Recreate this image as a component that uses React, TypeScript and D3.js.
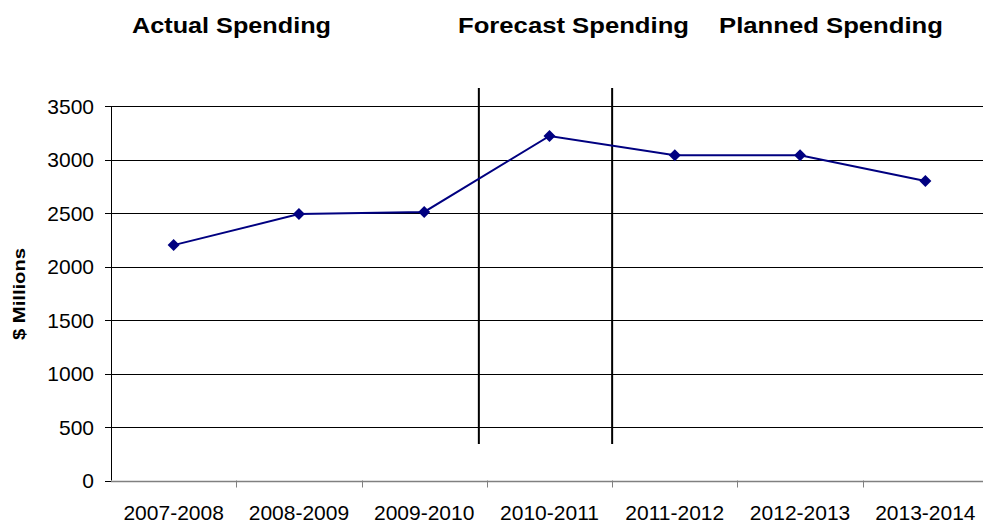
import React from "react";
import * as d3 from "d3";

const categories = ["2007-2008", "2008-2009", "2009-2010", "2010-2011", "2011-2012", "2012-2013", "2013-2014"];
const spending = [2200, 2490, 2510, 3220, 3040, 3040, 2800];
const yTicks = [0, 500, 1000, 1500, 2000, 2500, 3000, 3500];
const sectionTitles = ["Actual Spending", "Forecast Spending", "Planned Spending"];
const sectionCenters = [231.5, 573.5, 831];
const sectionWidths = [199, 231, 224];

export default function App() {
  const W = 983, H = 527;
  const left = 111, right = 988, top = 106, bottom = 480.5;
  const x = d3.scaleBand<string>().domain(categories).range([left, right]).padding(0);
  const y = d3.scaleLinear().domain([0, 3500]).range([bottom, top]);
  const line = d3.line<number>()
    .x((_, i) => (x(categories[i]) as number) + x.bandwidth() / 2)
    .y((d) => y(d));
  const font = "'Liberation Sans', Arial, sans-serif";
  const bw = x.bandwidth();
  const divider1 = (x(categories[3]) as number) - 8;
  const divider2 = (x(categories[4]) as number);

  return (
    <svg width={W} height={H} style={{ position: "absolute", left: 0, top: 0 }} fontFamily={font}>
      <rect x={0} y={0} width={W} height={H} fill="#fff" />
      {sectionTitles.map((t, i) => (
        <text key={t} x={sectionCenters[i]} y={33} textAnchor="middle" fontWeight="bold" fontSize={22}
          textLength={sectionWidths[i]} lengthAdjust="spacingAndGlyphs">{t}</text>
      ))}
      {yTicks.filter((t) => t > 0).map((t) => (
        <line key={t} x1={left} x2={right} y1={Math.round(y(t)) + 0.5} y2={Math.round(y(t)) + 0.5} stroke="#000" strokeWidth={1} />
      ))}
      {yTicks.map((t) => (
        <g key={"yt" + t}>
          <line x1={left - 6} x2={left} y1={Math.round(y(t)) + 0.5} y2={Math.round(y(t)) + 0.5} stroke="#000" />
          <text x={94} y={y(t)} dy="0.36em" textAnchor="end" fontSize={21}>{t}</text>
        </g>
      ))}
      <line x1={left + 0.5} x2={left + 0.5} y1={top} y2={bottom} stroke="#000" />
      <line x1={left} x2={right} y1={Math.round(bottom) + 0.5} y2={Math.round(bottom) + 0.5} stroke="#808080" strokeWidth={1.5} />
      {categories.map((c, i) => (
        <g key={c}>
          <line x1={Math.round((x(c) as number) + bw) + 0.5} x2={Math.round((x(c) as number) + bw) + 0.5} y1={bottom} y2={bottom + 7} stroke="#808080" />
          <text x={(x(c) as number) + bw / 2} y={520} textAnchor="middle" fontSize={21}>{c}</text>
        </g>
      ))}
      <line x1={divider1} x2={divider1} y1={88} y2={444} stroke="#000" strokeWidth={2} />
      <line x1={divider2} x2={divider2} y1={88} y2={444} stroke="#000" strokeWidth={2} />
      <path d={line(spending) as string} fill="none" stroke="#000080" strokeWidth={2} />
      {spending.map((v, i) => {
        const cx = (x(categories[i]) as number) + bw / 2;
        const cy = y(v);
        return <path key={i} d={`M${cx},${cy - 6}L${cx + 6},${cy}L${cx},${cy + 6}L${cx - 6},${cy}Z`} fill="#000080" />;
      })}
      <text transform="translate(25,294) rotate(-90)" textAnchor="middle" fontWeight="bold" fontSize={17}
        textLength={92} lengthAdjust="spacingAndGlyphs">$ Millions</text>
    </svg>
  );
}
